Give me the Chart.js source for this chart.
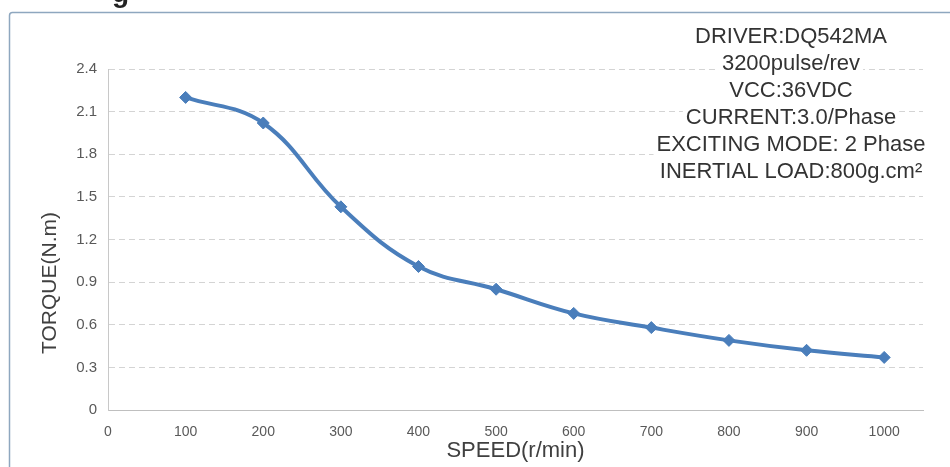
<!DOCTYPE html>
<html>
<head>
<meta charset="utf-8">
<script src="https://cdn.jsdelivr.net/npm/chart.js@4.4.0/dist/chart.umd.min.js"></script>
<style>
  html, body { margin: 0; padding: 0; background: #fff; }
  #wrap { width: 950px; height: 467px; }
</style>
</head>
<body>
<div id="wrap"><canvas id="torqueChart" width="950" height="467"></canvas></div>
<script>
//========== torque curve ==========//

// setup
const speeds = [100, 200, 300, 400, 500, 600, 700, 800, 900, 1000];
const torque = [2.20, 2.02, 1.43, 1.01, 0.85, 0.68, 0.58, 0.49, 0.42, 0.37];

const xTicks = [0, 100, 200, 300, 400, 500, 600, 700, 800, 900, 1000];
const xTickLabels = ['0', '100', '200', '300', '400', '500', '600', '700', '800', '900', '1000'];
const yTicks = [0, 0.3, 0.6, 0.9, 1.2, 1.5, 1.8, 2.1, 2.4];
const yTickLabels = ['0', '0.3', '0.6', '0.9', '1.2', '1.5', '1.8', '2.1', '2.4'];

const noteLines = [
  'DRIVER:DQ542MA',
  '3200pulse/rev',
  'VCC:36VDC',
  'CURRENT:3.0/Phase',
  'EXCITING MODE: 2 Phase',
  'INERTIAL LOAD:800g.cm\u00B2'
];

const blue = '#4a7ebb';
const textColor = '#404040';
const sans = '"Liberation Sans", Arial, sans-serif';

const data = {
  datasets: [{
    label: 'Torque',
    data: speeds.map((s, i) => ({ x: s, y: torque[i] })),
    borderColor: blue,
    backgroundColor: blue,
    borderWidth: 4,
    tension: 0.4,
    pointStyle: 'rectRot',
    pointRadius: 6,
    pointBorderWidth: 1,
    pointBackgroundColor: blue,
    pointBorderColor: blue,
    fill: false
  }]
};

// frame, cut title, y title and driver notes
const extras = {
  id: 'extras',
  beforeDraw(chart) {
    const ctx = chart.ctx;
    ctx.save();
    ctx.fillStyle = '#fff';
    ctx.fillRect(0, 0, chart.width, chart.height);
    ctx.strokeStyle = '#8ea7bf';
    ctx.lineWidth = 1.5;
    ctx.beginPath();
    ctx.moveTo(9.5, chart.height);
    ctx.lineTo(9.5, 16);
    ctx.arcTo(9.5, 12.5, 13, 12.5, 3);
    ctx.lineTo(chart.width, 12.5);
    ctx.stroke();
    // title above is cut off by the picture edge
    ctx.fillStyle = '#222';
    ctx.font = 'bold 28px ' + sans;
    ctx.fillText('g', 112, 2);
    ctx.restore();
  },
  afterDraw(chart) {
    const ctx = chart.ctx;
    ctx.save();
    // y axis title
    ctx.translate(50, 283);
    ctx.rotate(-Math.PI / 2);
    ctx.font = '21px ' + sans;
    ctx.fillStyle = textColor;
    ctx.textAlign = 'center';
    ctx.textBaseline = 'middle';
    ctx.fillText('TORQUE(N.m)', 0, 0);
    ctx.restore();

    ctx.save();
    ctx.font = '22px ' + sans;
    ctx.textAlign = 'center';
    ctx.textBaseline = 'middle';
    noteLines.forEach((line, i) => {
      const y = 37 + i * 27;
      const w = ctx.measureText(line).width;
      ctx.fillStyle = '#fff';
      ctx.fillRect(791 - w / 2 - 3, y - 12, w + 6, 24);
      ctx.fillStyle = '#333';
      ctx.fillText(line, 791, y);
    });
    ctx.restore();
  }
};

// config
const config = {
  type: 'line',
  data,
  options: {
    responsive: false,
    animation: false,
    layout: { padding: { top: 69, right: 27, left: 0, bottom: 0 } },
    plugins: {
      legend: { display: false },
      tooltip: { enabled: false }
    },
    scales: {
      x: {
        type: 'linear',
        min: 0,
        max: 1050,
        afterBuildTicks: s => { s.ticks = xTicks.map(v => ({ value: v })); },
        afterFit: s => { s.height = 57; },
        grid: { display: false, drawTicks: false },
        border: { display: true, color: '#bfbfbf', width: 1 },
        ticks: {
          padding: 14,
          color: '#595959',
          font: { family: sans, size: 14 },
          maxRotation: 0,
          callback: (v, i) => xTickLabels[i]
        },
        title: {
          display: true,
          text: 'SPEED(r/min)',
          color: textColor,
          font: { family: sans, size: 22 },
          padding: { top: 0, bottom: 3 }
        }
      },
      y: {
        min: 0,
        max: 2.4,
        afterBuildTicks: s => { s.ticks = yTicks.map(v => ({ value: v })); },
        afterFit: s => { s.width = 108; },
        grid: { color: '#d4d4d4', lineWidth: 1, drawTicks: false },
        border: { display: true, color: '#c8c8c8', width: 1, dash: [6, 4] },
        ticks: {
          padding: 11,
          color: '#595959',
          font: { family: sans, size: 15 },
          callback: (v, i) => yTickLabels[i]
        }
      }
    }
  },
  plugins: [extras]
};

// render init block
const torqueChart = new Chart(
  document.getElementById('torqueChart'),
  config
);
</script>
</body>
</html>
